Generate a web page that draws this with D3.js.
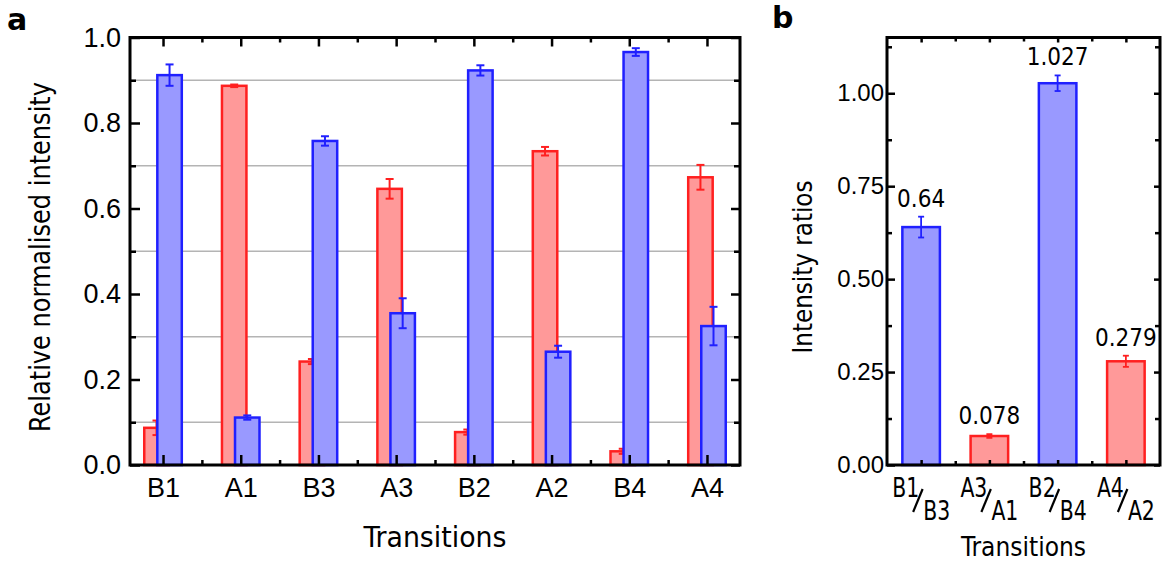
<!DOCTYPE html>
<html>
<head>
<meta charset="utf-8">
<script src="https://cdn.jsdelivr.net/npm/d3@7"></script>
<style>
  body { margin: 0; background: #fff; }
  svg { display: block; font-family: "DejaVu Sans Condensed", "DejaVu Sans", sans-serif; }
</style>
</head>
<body>
<svg id="chart" width="1163" height="566"></svg>
<script>
// panel a: relative normalised intensity per transition
const transitions = ["B1", "A1", "B3", "A3", "B2", "A2", "B4", "A4"];
const redValues = [0.087, 0.887, 0.242, 0.646, 0.077, 0.734, 0.032, 0.673];
const redErrors = [0.017, 0.003, 0.006, 0.023, 0.006, 0.010, 0.006, 0.029];
const blueValues = [0.912, 0.111, 0.758, 0.355, 0.923, 0.265, 0.966, 0.325];
const blueErrors = [0.025, 0.005, 0.011, 0.035, 0.012, 0.014, 0.009, 0.045];
const yTicksA = [0, 0.2, 0.4, 0.6, 0.8, 1.0];

// panel b: intensity ratios
const ratioTop = ["B1", "A3", "B2", "A4"];
const ratioBottom = ["B3", "A1", "B4", "A2"];
const ratioValues = [0.64, 0.078, 1.027, 0.279];
const ratioErrors = [0.028, 0.005, 0.021, 0.015];
const ratioSeries = ["blue", "red", "blue", "red"];
const yTicksB = [0, 0.25, 0.5, 0.75, 1.0];

const fill = { red: "#ff9999", blue: "#9999ff" };
const line = { red: "#ff2020", blue: "#2020ff" };

const svg = d3.select("#chart");

const ticks = (g, axis) => g.call(axis)
  .call(g => g.select(".domain").remove())
  .call(g => g.selectAll(".tick line").attr("stroke", "#000").attr("stroke-width", 2.5))
  .call(g => g.selectAll(".tick text").attr("fill", "#000"));

const errorBar = (g, cx, y0, y1, cap, color, w) => {
  g.append("line").attr("x1", cx).attr("x2", cx).attr("y1", y0).attr("y2", y1)
    .attr("stroke", color).attr("stroke-width", w);
  [y0, y1].forEach(yy => g.append("line")
    .attr("x1", cx - cap / 2).attr("x2", cx + cap / 2).attr("y1", yy).attr("y2", yy)
    .attr("stroke", color).attr("stroke-width", w));
};

// ---------- panel a ----------
{
  const left = 130, right = 740, top = 37.5, bottom = 465;
  const x = d3.scaleLinear().domain([0.575, 8.425]).range([left, right]);
  const y = d3.scaleLinear().domain([0, 1]).range([bottom, top]);
  const minorY = d3.range(0.1, 1, 0.2);
  const idx = d3.range(1, transitions.length + 1);
  const half = d3.range(1.5, transitions.length, 1);
  const shift = 0.084, barW = 0.315;
  const g = svg.append("g");

  g.append("g").selectAll("line").data(minorY).join("line")
    .attr("x1", left).attr("x2", right)
    .attr("y1", y).attr("y2", y)
    .attr("stroke", "#b4b4b4").attr("stroke-width", 1.5);

  const series = [
    { key: "red", values: redValues, errors: redErrors, dx: -shift },
    { key: "blue", values: blueValues, errors: blueErrors, dx: shift }
  ];

  series.forEach(s => {
    const sg = g.append("g");
    sg.selectAll("rect").data(s.values).join("rect")
      .attr("x", (d, i) => x(i + 1 + s.dx - barW / 2))
      .attr("width", x(barW) - x(0))
      .attr("y", d => y(d))
      .attr("height", d => y(0) - y(d))
      .attr("fill", fill[s.key])
      .attr("stroke", line[s.key])
      .attr("stroke-width", 2.5);
    s.values.forEach((v, i) => errorBar(sg, x(i + 1 + s.dx), y(v + s.errors[i]), y(v - s.errors[i]), 8, line[s.key], 2));
  });

  g.append("g").call(ticks, d3.axisLeft(y).tickValues(yTicksA).tickSize(-10).tickPadding(9).tickFormat(d3.format(".1f")))
    .attr("transform", `translate(${left},0)`)
    .selectAll("text").attr("font-size", 27);
  g.append("g").call(ticks, d3.axisLeft(y).tickValues(minorY).tickSize(-6).tickFormat(""))
    .attr("transform", `translate(${left},0)`);
  g.append("g").call(ticks, d3.axisRight(y).tickValues(yTicksA).tickSize(-9).tickFormat(""))
    .attr("transform", `translate(${right},0)`);
  g.append("g").call(ticks, d3.axisRight(y).tickValues(minorY).tickSize(-6).tickFormat(""))
    .attr("transform", `translate(${right},0)`);
  g.append("g").call(ticks, d3.axisBottom(x).tickValues(idx).tickSize(-10).tickPadding(13).tickFormat(i => transitions[i - 1]))
    .attr("transform", `translate(0,${bottom})`)
    .selectAll("text").attr("font-size", 27);
  g.append("g").call(ticks, d3.axisBottom(x).tickValues(half).tickSize(-5).tickFormat(""))
    .attr("transform", `translate(0,${bottom})`);
  g.append("g").call(ticks, d3.axisTop(x).tickValues(idx).tickSize(-9).tickFormat(""))
    .attr("transform", `translate(0,${top})`);
  g.append("g").call(ticks, d3.axisTop(x).tickValues(half).tickSize(-5).tickFormat(""))
    .attr("transform", `translate(0,${top})`);

  g.append("rect")
    .attr("x", left).attr("y", top)
    .attr("width", right - left).attr("height", bottom - top)
    .attr("fill", "none").attr("stroke", "#000").attr("stroke-width", 3);

  g.append("text")
    .attr("transform", "translate(50,257) rotate(-90)")
    .attr("text-anchor", "middle")
    .attr("font-size", 28)
    .attr("textLength", 350).attr("lengthAdjust", "spacingAndGlyphs")
    .text("Relative normalised intensity");

  g.append("text")
    .attr("x", (left + right) / 2).attr("y", 547)
    .attr("text-anchor", "middle")
    .attr("font-size", 28)
    .attr("textLength", 143).attr("lengthAdjust", "spacingAndGlyphs")
    .text("Transitions");

  g.append("text")
    .attr("x", 7).attr("y", 30)
    .attr("font-family", "DejaVu Sans, sans-serif")
    .attr("font-weight", "bold").attr("font-size", 30)
    .text("a");
}

// ---------- panel b ----------
{
  const left = 887, right = 1160, top = 37.5, bottom = 465;
  const x = d3.scaleLinear().domain([0.5, ratioValues.length + 0.5]).range([left, right]);
  const y = d3.scaleLinear().domain([0, 1.15]).range([bottom, top]);
  const minorY = d3.range(0.125, 1.15, 0.25);
  const idx = d3.range(1, ratioValues.length + 1);
  const half = d3.range(1.5, ratioValues.length, 1);
  const barW = 0.55;
  const g = svg.append("g");

  g.selectAll("rect.bar").data(ratioValues).join("rect")
    .attr("class", "bar")
    .attr("x", (d, i) => x(i + 1 - barW / 2))
    .attr("width", x(barW) - x(0))
    .attr("y", d => y(d))
    .attr("height", d => y(0) - y(d))
    .attr("fill", (d, i) => fill[ratioSeries[i]])
    .attr("stroke", (d, i) => line[ratioSeries[i]])
    .attr("stroke-width", 2.5);

  ratioValues.forEach((v, i) => errorBar(g, x(i + 1), y(v + ratioErrors[i]), y(v - ratioErrors[i]), 6, line[ratioSeries[i]], 1.8));

  g.selectAll("text.val").data(ratioValues).join("text")
    .attr("class", "val")
    .attr("x", (d, i) => x(i + 1))
    .attr("y", (d, i) => y(d + ratioErrors[i]) - 10)
    .attr("text-anchor", "middle")
    .attr("font-size", 24)
    .text(d => String(d));

  g.append("g").call(ticks, d3.axisLeft(y).tickValues(yTicksB).tickSize(-8).tickPadding(3).tickFormat(d3.format(".2f")))
    .attr("transform", `translate(${left},0)`)
    .selectAll("text").attr("font-size", 24);
  g.append("g").call(ticks, d3.axisLeft(y).tickValues(minorY).tickSize(-5).tickFormat(""))
    .attr("transform", `translate(${left},0)`);
  g.append("g").call(ticks, d3.axisRight(y).tickValues(yTicksB).tickSize(-6).tickFormat(""))
    .attr("transform", `translate(${right},0)`);
  g.append("g").call(ticks, d3.axisRight(y).tickValues(minorY).tickSize(-5).tickFormat(""))
    .attr("transform", `translate(${right},0)`);
  g.append("g").call(ticks, d3.axisBottom(x).tickValues(idx).tickSize(-5).tickFormat(""))
    .attr("transform", `translate(0,${bottom})`);
  g.append("g").call(ticks, d3.axisBottom(x).tickValues(half).tickSize(-4).tickFormat(""))
    .attr("transform", `translate(0,${bottom})`);
  g.append("g").call(ticks, d3.axisTop(x).tickValues(idx).tickSize(-5).tickFormat(""))
    .attr("transform", `translate(0,${top})`);
  g.append("g").call(ticks, d3.axisTop(x).tickValues(half).tickSize(-4).tickFormat(""))
    .attr("transform", `translate(0,${top})`);

  g.append("rect")
    .attr("x", left).attr("y", top)
    .attr("width", right - left).attr("height", bottom - top)
    .attr("fill", "none").attr("stroke", "#000").attr("stroke-width", 3);

  // stacked ratio labels like  B1/B3
  const lab = g.append("g").selectAll("g").data(idx).join("g")
    .attr("transform", i => `translate(${x(i)},0)`);
  lab.append("text")
    .attr("x", -29).attr("y", 497)
    .attr("font-size", 26)
    .attr("textLength", 27).attr("lengthAdjust", "spacingAndGlyphs")
    .text(i => ratioTop[i - 1]);
  lab.append("line")
    .attr("x1", -8).attr("y1", 512).attr("x2", 1.5).attr("y2", 489)
    .attr("stroke", "#000").attr("stroke-width", 2.2);
  lab.append("text")
    .attr("x", 2).attr("y", 520)
    .attr("font-size", 26)
    .attr("textLength", 27).attr("lengthAdjust", "spacingAndGlyphs")
    .text(i => ratioBottom[i - 1]);

  g.append("text")
    .attr("transform", "translate(812,267) rotate(-90)")
    .attr("text-anchor", "middle")
    .attr("font-size", 26)
    .attr("textLength", 173).attr("lengthAdjust", "spacingAndGlyphs")
    .text("Intensity ratios");

  g.append("text")
    .attr("x", (left + right) / 2).attr("y", 556)
    .attr("text-anchor", "middle")
    .attr("font-size", 26)
    .attr("textLength", 125).attr("lengthAdjust", "spacingAndGlyphs")
    .text("Transitions");

  g.append("text")
    .attr("x", 772).attr("y", 28)
    .attr("font-family", "DejaVu Sans, sans-serif")
    .attr("font-weight", "bold").attr("font-size", 30)
    .text("b");
}
</script>
</body>
</html>
